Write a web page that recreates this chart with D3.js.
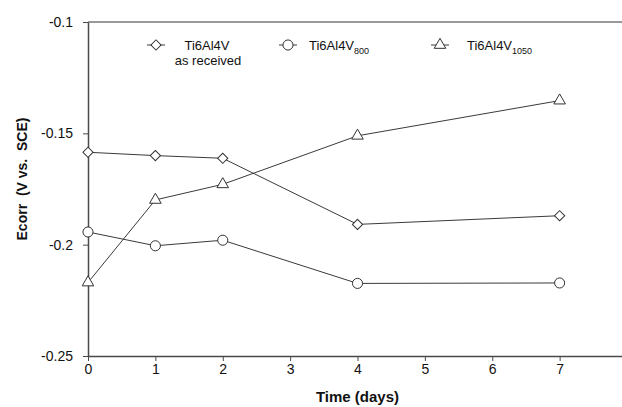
<!DOCTYPE html>
<html>
<head>
<meta charset="utf-8">
<script src="https://cdn.jsdelivr.net/npm/d3@7"></script>
<style>
  html, body { margin: 0; padding: 0; background: #fff; }
  svg { display: block; font-family: "Liberation Sans", Arial, sans-serif; }
</style>
</head>
<body>
<svg id="chart" width="622" height="407"></svg>
<script>
// ---- data ----
const days = [0, 1, 2, 4, 7];
const asReceived = [-0.1585, -0.1600, -0.1612, -0.1909, -0.1870];
const heat800 = [-0.1943, -0.2005, -0.1980, -0.2174, -0.2172];
const heat1050 = [-0.2170, -0.1799, -0.1729, -0.1511, -0.1353];
const xTicks = [0, 1, 2, 3, 4, 5, 6, 7, 8];
const yTicks = [-0.1, -0.15, -0.2, -0.25];
const yTickLabels = ["-0.1", "-0.15", "-0.2", "-0.25"];

const series = [
  { name: "Ti6Al4V", sub: "", second: "as received", values: asReceived, shape: "diamond" },
  { name: "Ti6Al4V", sub: "800", second: "", values: heat800, shape: "circle" },
  { name: "Ti6Al4V", sub: "1050", second: "", values: heat1050, shape: "triangle" }
];

const svg = d3.select("#chart");
const x = d3.scaleLinear().domain([0, 8]).range([88, 627]);
const y = d3.scaleLinear().domain([-0.25, -0.1]).range([356, 22]);

const axisColor = "#4a4a4a";
const lineColor = "#3a3a3a";

// top border
svg.append("line")
  .attr("x1", x(0)).attr("x2", 622)
  .attr("y1", y(-0.1)).attr("y2", y(-0.1))
  .attr("stroke", "#777").attr("stroke-width", 1.5);

// x axis
const gx = svg.append("g").attr("transform", `translate(0,${y(-0.25)})`)
  .call(d3.axisBottom(x).tickValues(xTicks).tickSize(5).tickSizeOuter(0).tickFormat(d3.format("d")));
gx.select(".domain").attr("stroke", axisColor).attr("stroke-width", 1.5);
gx.selectAll(".tick line").attr("stroke", axisColor);
gx.selectAll(".tick text").attr("font-size", 14).attr("fill", "#111").attr("dy", "0.95em").attr("y", 5);

// y axis
const gy = svg.append("g").attr("transform", `translate(${x(0)},0)`)
  .call(d3.axisLeft(y).tickValues(yTicks).tickSize(5).tickSizeOuter(0)
    .tickFormat((d, i) => yTickLabels[i]));
gy.select(".domain").attr("stroke", axisColor).attr("stroke-width", 1.5);
gy.selectAll(".tick line").attr("stroke", axisColor);
gy.selectAll(".tick text").attr("font-size", 14).attr("fill", "#111").attr("x", -15);

// axis titles
svg.append("text")
  .attr("x", x(4)).attr("y", 402)
  .attr("text-anchor", "middle")
  .attr("font-size", 15).attr("font-weight", "bold").attr("fill", "#111")
  .text("Time (days)");

svg.append("text")
  .attr("transform", `translate(27,${(118 + 240) / 2}) rotate(-90)`)
  .attr("text-anchor", "middle")
  .attr("font-size", 14).attr("font-weight", "bold").attr("fill", "#111")
  .attr("xml:space", "preserve")
  .style("white-space", "pre")
  .text("Ecorr  (V vs.  SCE)");

// symbols
function symbolPath(shape) {
  if (shape === "diamond") return d3.symbol().type(d3.symbolSquare).size(52)();
  if (shape === "circle") return d3.symbol().type(d3.symbolCircle).size(80)();
  return d3.symbol().type(d3.symbolTriangle).size(58)();
}
function symbolTransform(shape, px, py) {
  return shape === "diamond" ? `translate(${px},${py}) rotate(45)` : `translate(${px},${py})`;
}

const line = d3.line().x(d => x(d[0])).y(d => y(d[1]));

series.forEach(s => {
  const pts = days.map((d, i) => [d, s.values[i]]);
  svg.append("path").datum(pts)
    .attr("d", line).attr("fill", "none")
    .attr("stroke", lineColor).attr("stroke-width", 1);
  svg.append("g").selectAll("path").data(pts).join("path")
    .attr("d", symbolPath(s.shape))
    .attr("transform", d => symbolTransform(s.shape, x(d[0]), y(d[1])))
    .attr("fill", "#fff").attr("stroke", "#333").attr("stroke-width", 1);
});

// legend
const legendPos = [
  { mx: 156, tx: 207, anchor: "middle" },
  { mx: 288, tx: 309, anchor: "start" },
  { mx: 440, tx: 467, anchor: "start" }
];
const ly = 45;
series.forEach((s, i) => {
  const p = legendPos[i];
  const g = svg.append("g");
  g.append("line").attr("x1", p.mx - 9).attr("x2", p.mx + 9)
    .attr("y1", ly).attr("y2", ly).attr("stroke", lineColor).attr("stroke-width", 1);
  g.append("path").attr("d", symbolPath(s.shape))
    .attr("transform", symbolTransform(s.shape, p.mx, ly))
    .attr("fill", "#fff").attr("stroke", "#333").attr("stroke-width", 1);
  const t = g.append("text").attr("x", p.tx).attr("y", 50)
    .attr("text-anchor", p.anchor).attr("font-size", 13).attr("fill", "#111");
  t.append("tspan").text(s.name);
  if (s.sub) {
    t.append("tspan").attr("font-size", 9).attr("dy", 4).text(s.sub);
  }
  if (s.second) {
    g.append("text").attr("x", p.tx + 1).attr("y", 65)
      .attr("text-anchor", "middle").attr("font-size", 13).attr("fill", "#111")
      .text(s.second);
  }
});
</script>
</body>
</html>
